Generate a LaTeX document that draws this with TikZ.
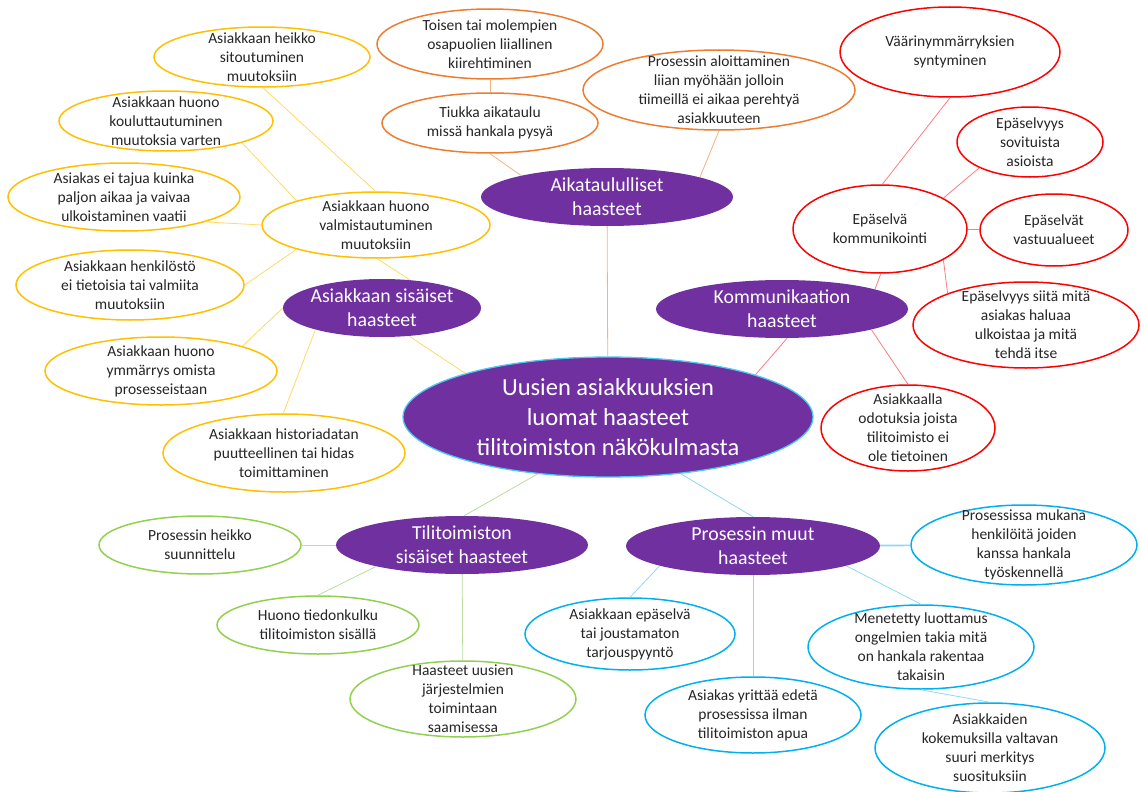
\documentclass[tikz,border=0pt]{standalone}
\usepackage{fontspec}
\setmainfont{Carlito}
\usetikzlibrary{shapes.geometric}
\definecolor{purp}{HTML}{7030A0}
\definecolor{cyel}{HTML}{FFC000}
\definecolor{cora}{HTML}{ED7D31}
\definecolor{cred}{HTML}{FF0000}
\definecolor{cgrn}{HTML}{92D050}
\definecolor{cblu}{HTML}{00B0F0}
\definecolor{lyel}{HTML}{FFD966}
\definecolor{lora}{HTML}{F4B183}
\definecolor{lred}{HTML}{FF7C80}
\definecolor{lgrn}{HTML}{C5E0B4}
\definecolor{lblu}{HTML}{8FD8F5}
\definecolor{txtc}{HTML}{262626}
\tikzset{
  bub/.style={ellipse, inner sep=0pt, line width=1.5pt, fill=white},
  ybub/.style={bub, draw=cyel},
  obub/.style={bub, draw=cora},
  rbub/.style={bub, draw=cred},
  gbub/.style={bub, draw=cgrn},
  bbub/.style={bub, draw=cblu},
  pbub/.style={ellipse, inner sep=0pt, fill=purp, draw=none},
  cbub/.style={ellipse, inner sep=0pt, fill=purp, draw=cblu!70!white, line width=1.3pt},
  txt/.style={align=center, text=txtc, font=\fontsize{15.5}{19}\selectfont, inner sep=0pt},
  ptxt/.style={align=center, text=white, font=\fontsize{19.8}{24}\selectfont, inner sep=0pt},
  ctxt/.style={align=center, text=white, font=\fontsize{24.5}{30}\selectfont, inner sep=0pt},
  yl/.style={draw=lyel, line width=0.8pt},
  ol/.style={draw=lora, line width=0.8pt},
  rl/.style={draw=lred, line width=0.8pt},
  gl/.style={draw=lgrn!80!cgrn, line width=0.8pt},
  bl/.style={draw=lblu, line width=0.8pt},
}
% #1 style, #2 name, #3 x, #4 y, #5 width, #6 height, #7 text style, #8 text
\newcommand\mkbub[8]{%
  \node[#1, minimum width=#5, minimum height=#6] (#2) at (#3,#4) {};
  \node[#7] at (#2) {#8};}
\begin{document}
\begin{tikzpicture}[x=1pt,y=-1pt]
\useasboundingbox (0,0) rectangle (1141,792);
\clip (0,0) rectangle (1141,792);

% central
\mkbub{cbub}{C}{608}{417}{410}{120}{ctxt}{Uusien asiakkuuksien\\luomat haasteet\\tilitoimiston näkökulmasta}

% purple category nodes
\mkbub{pbub}{sA}{382}{308}{198}{58}{ptxt}{Asiakkaan sisäiset\\haasteet}
\mkbub{pbub}{aT}{607}{197}{252}{58}{ptxt}{Aikataululliset\\haasteet}
\mkbub{pbub}{kO}{782}{309}{252}{58}{ptxt}{Kommunikaation\\haasteet}
\mkbub{pbub}{tS}{462}{545}{252}{58}{ptxt}{Tilitoimiston\\sisäiset haasteet}
\mkbub{pbub}{pM}{753}{546}{254}{58}{ptxt}{Prosessin muut\\haasteet}

% yellow
\mkbub{ybub}{n1}{262}{57}{216}{60}{txt}{Asiakkaan heikko\\sitoutuminen\\muutoksiin}
\mkbub{ybub}{n2}{166}{121}{214}{60}{txt}{Asiakkaan huono\\kouluttautuminen\\muutoksia varten}
\mkbub{ybub}{n3}{124}{197}{232}{68}{txt}{Asiakas ei tajua kuinka\\paljon aikaa ja vaivaa\\ulkoistaminen vaatii}
\mkbub{ybub}{n4}{376}{225}{228}{66}{txt}{Asiakkaan huono\\valmistautuminen\\muutoksiin}
\mkbub{ybub}{n5}{130}{285}{228}{70}{txt}{Asiakkaan henkilöstö\\ei tietoisia tai valmiita\\muutoksiin}
\mkbub{ybub}{n6}{161}{371}{232}{68}{txt}{Asiakkaan huono\\ymmärrys omista\\prosesseistaan}
\mkbub{ybub}{n7}{284}{453}{242}{78}{txt}{Asiakkaan historiadatan\\puutteellinen tai hidas\\toimittaminen}

% orange
\mkbub{obub}{o1}{490}{44}{226}{70}{txt}{Toisen tai molempien\\osapuolien liiallinen\\kiirehtiminen}
\mkbub{obub}{o2}{490}{123}{216}{60}{txt}{Tiukka aikataulu\\missä hankala pysyä}
\mkbub{obub}{o3}{719}{90}{272}{80}{txt}{Prosessin aloittaminen\\liian myöhään jolloin\\tiimeillä ei aikaa perehtyä\\asiakkuuteen}

% red
\mkbub{rbub}{r1}{950}{52}{220}{90}{txt}{Väärinymmärryksien\\syntyminen}
\mkbub{rbub}{r2}{1030}{142}{146}{70}{txt}{Epäselvyys\\sovituista\\asioista}
\mkbub{rbub}{r3}{880}{229}{174}{88}{txt}{Epäselvä\\kommunikointi}
\mkbub{rbub}{r4}{1054}{230}{148}{72}{txt}{Epäselvät\\vastuualueet}
\mkbub{rbub}{r5}{1026}{325}{226}{86}{txt}{Epäselvyys siitä mitä\\asiakas haluaa\\ulkoistaa ja mitä\\tehdä itse}
\mkbub{rbub}{r6}{908}{428}{174}{86}{txt}{Asiakkaalla\\odotuksia joista\\tilitoimisto ei\\ole tietoinen}

% green
\mkbub{gbub}{g1}{200}{545}{202}{58}{txt}{Prosessin heikko\\suunnittelu}
\mkbub{gbub}{g2}{318}{625}{202}{58}{txt}{Huono tiedonkulku\\tilitoimiston sisällä}
\mkbub{gbub}{g3}{463}{699}{226}{76}{txt}{Haasteet uusien\\järjestelmien\\toimintaan\\saamisessa}

% blue
\mkbub{bbub}{b1}{1024}{545}{226}{80}{txt}{Prosessissa mukana\\henkilöitä joiden\\kanssa hankala\\työskennellä}
\mkbub{bbub}{b2}{630}{634}{210}{72}{txt}{Asiakkaan epäselvä\\tai joustamaton\\tarjouspyyntö}
\mkbub{bbub}{b3}{753}{715}{216}{76}{txt}{Asiakas yrittää edetä\\prosessissa ilman\\tilitoimiston apua}
\mkbub{bbub}{b4}{921}{647}{226}{84}{txt}{Menetetty luottamus\\ongelmien takia mitä\\on hankala rakentaa\\takaisin}
\mkbub{bbub}{b5}{990}{748}{230}{90}{txt}{Asiakkaiden\\kokemuksilla valtavan\\suuri merkitys\\suosituksiin}

% yellow connectors
\draw[yl] (n1.-88) -- (n4.91);
\draw[yl] (n2.-16) -- (n4.163);
\draw[yl] (n3.-17) -- (n4.180);
\draw[yl] (n5.0) -- (n4.197);
\draw[yl] (n4.-88) -- (sA.45);
\draw[yl] (n6.17) -- (sA.180);
\draw[yl] (n7.91) -- (sA.198);
\draw[yl] (sA.-46) -- (C.163);

% orange connectors
\draw[ol] (o1) -- (o2);
\draw[ol] (o2.-90) -- (aT.166);
\draw[ol] (o3.-90) -- (aT.12);
\draw[ol] (aT) -- (C);

% red connectors
\draw[rl] (r1.-90) -- (r3.87);
\draw[rl] (r2.207) -- (r3.26);
\draw[rl] (r3) -- (r4);
\draw[rl] (r3.-26) -- (r5.158);
\draw[rl] (r3.-89) -- (kO.12);
\draw[rl] (kO.-13) -- (r6.90);
\draw[rl] (kO.-80) -- (C.16);

% green connectors
\draw[gl] (C.-141) -- (tS.86);
\draw[gl] (tS) -- (g1);
\draw[gl] (tS.194) -- (g2.90);
\draw[gl] (tS) -- (g3);

% blue connectors
\draw[bl] (C.-38) -- (pM.90);
\draw[bl, line width=1.6pt] (pM) -- (b1);
\draw[bl] (pM.192) -- (b2.90);
\draw[bl] (pM) -- (b3);
\draw[bl] (pM.-12) -- (b4.90);
\draw[bl] (b4.-90) -- (b5.90);
\end{tikzpicture}
\end{document}
